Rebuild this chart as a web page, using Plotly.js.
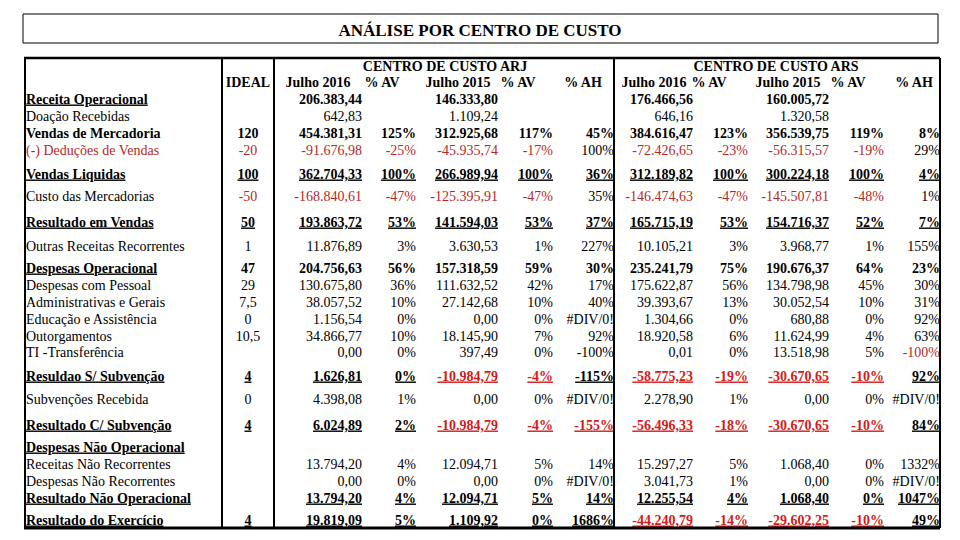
<!DOCTYPE html>
<html><head><meta charset="utf-8">
<script src="https://cdn.plot.ly/plotly-3.0.1.min.js"></script>
<style>html,body{margin:0;padding:0;background:#fff}</style>
</head><body><div id="chart" style="width:960px;height:540px"></div>
<script>
// ---------------- DATA ----------------
const chartTitle = 'ANÁLISE POR CENTRO DE CUSTO';
const centerNames = ['CENTRO DE CUSTO ARJ', 'CENTRO DE CUSTO ARS'];
const colHeaders = ['Julho 2016', '% AV', 'Julho 2015', '% AV', '% AH'];
const idealHeader = 'IDEAL';
const rowLabels = ['Receita Operacional','Doação Recebidas','Vendas de Mercadoria','(-) Deduções de Vendas','Vendas Liquidas','Custo das Mercadorias','Resultado em Vendas','Outras Receitas Recorrentes','Despesas Operacional','Despesas com Pessoal','Administrativas e Gerais','Educação e Assistência','Outorgamentos','TI -Transferência','Resuldao S/ Subvenção','Subvenções Recebida','Resultado C/ Subvenção','Despesas Não Operacional','Receitas Não Recorrentes','Despesas Não Recorrentes','Resultado Não Operacional','Resultado do Exercício'];
const ideal = ['','','120','-20','100','-50','50','1','47','29','7,5','0','10,5','','4','0','4','','','','','4'];
const arjJul2016 = ['206.383,44','642,83','454.381,31','-91.676,98','362.704,33','-168.840,61','193.863,72','11.876,89','204.756,63','130.675,80','38.057,52','1.156,54','34.866,77','0,00','1.626,81','4.398,08','6.024,89','','13.794,20','0,00','13.794,20','19.819,09'];
const arjAv2016 = ['','','125%','-25%','100%','-47%','53%','3%','56%','36%','10%','0%','10%','0%','0%','1%','2%','','4%','0%','4%','5%'];
const arjJul2015 = ['146.333,80','1.109,24','312.925,68','-45.935,74','266.989,94','-125.395,91','141.594,03','3.630,53','157.318,59','111.632,52','27.142,68','0,00','18.145,90','397,49','-10.984,79','0,00','-10.984,79','','12.094,71','0,00','12.094,71','1.109,92'];
const arjAv2015 = ['','','117%','-17%','100%','-47%','53%','1%','59%','42%','10%','0%','7%','0%','-4%','0%','-4%','','5%','0%','5%','0%'];
const arjAh = ['','','45%','100%','36%','35%','37%','227%','30%','17%','40%','#DIV/0!','92%','-100%','-115%','#DIV/0!','-155%','','14%','#DIV/0!','14%','1686%'];
const arsJul2016 = ['176.466,56','646,16','384.616,47','-72.426,65','312.189,82','-146.474,63','165.715,19','10.105,21','235.241,79','175.622,87','39.393,67','1.304,66','18.920,58','0,01','-58.775,23','2.278,90','-56.496,33','','15.297,27','3.041,73','12.255,54','-44.240,79'];
const arsAv2016 = ['','','123%','-23%','100%','-47%','53%','3%','75%','56%','13%','0%','6%','0%','-19%','1%','-18%','','5%','1%','4%','-14%'];
const arsJul2015 = ['160.005,72','1.320,58','356.539,75','-56.315,57','300.224,18','-145.507,81','154.716,37','3.968,77','190.676,37','134.798,98','30.052,54','680,88','11.624,99','13.518,98','-30.670,65','0,00','-30.670,65','','1.068,40','0,00','1.068,40','-29.602,25'];
const arsAv2015 = ['','','119%','-19%','100%','-48%','52%','1%','64%','45%','10%','0%','4%','5%','-10%','0%','-10%','','0%','0%','0%','-10%'];
const arsAh = ['','','8%','29%','4%','1%','7%','155%','23%','30%','31%','92%','63%','-100%','92%','#DIV/0!','84%','','1332%','#DIV/0!','1047%','49%'];

// ---------------- LAYOUT / STYLE CONFIG ----------------
const FONT = "'Liberation Serif', 'Times New Roman', serif";
const FS = 14;
const BLACK = '#000000';
const RED = '#b02a2a';
const RED_BOLD = '#d41a1a';
const rowY = [100,117,134,151,175,197,223,247,269,286,303,320,337,353,377,400,426,448,465,482,499,521];
// n = normal, b = bold, L = bold with underlined label, U = bold and underlined
const rowStyle = ['L','n','b','n','U','n','U','n','L','n','n','n','n','n','U','n','U','L','n','n','U','U'];
const redLabelRows = [3];
const arjAhRedRows = [16];
const arsAhRedRows = [13];
const labelX = 26;
const idealX = 248;
const arjRight = [362, 416, 498, 553, 614];
const arsRight = [693, 748, 829, 884, 940];
const arjHeadX = [318, 382, 458, 518, 583];
const arsHeadX = [654, 709, 788, 848, 914];
const centerX = [445, 776];
const headY1 = 67, headY2 = 83;

function styled(v, r, isLabel) {
  if (v === '') return '';
  const s = rowStyle[r];
  let t = v;
  if (s === 'U' || (s === 'L' && isLabel)) t = '<u>' + t + '</u>';
  if (s !== 'n') t = '<b>' + t + '</b>';
  return t;
}
function colorFor(v, r, redRows) {
  const red = redRows ? redRows.includes(r) : v.trim().startsWith('-');
  if (!red) return BLACK;
  return rowStyle[r] === 'n' ? RED : RED_BOLD;
}
function colTrace(values, x, pos, redRows, isLabel) {
  return {
    type: 'scatter', mode: 'text', hoverinfo: 'skip', showlegend: false,
    x: values.map(() => x), y: rowY,
    text: values.map((v, r) => styled(v, r, isLabel)),
    textposition: pos,
    textfont: {family: FONT, size: FS, color: values.map((v, r) => colorFor(v, r, redRows))},
    cliponaxis: false
  };
}

const traces = [];
traces.push(colTrace(rowLabels, labelX, 'middle right', redLabelRows, true));
traces.push(colTrace(ideal, idealX, 'middle center', null, false));
const arjCols = [arjJul2016, arjAv2016, arjJul2015, arjAv2015, arjAh];
const arsCols = [arsJul2016, arsAv2016, arsJul2015, arsAv2015, arsAh];
arjCols.forEach((c, i) => traces.push(colTrace(c, arjRight[i], 'middle left', i === 4 ? arjAhRedRows : null, false)));
arsCols.forEach((c, i) => traces.push(colTrace(c, arsRight[i], 'middle left', i === 4 ? arsAhRedRows : null, false)));

// header texts
const hx = [idealX, centerX[0], centerX[1]].concat(arjHeadX, arsHeadX);
const hy = [headY2, headY1, headY1].concat(arjHeadX.map(() => headY2), arsHeadX.map(() => headY2));
const ht = [idealHeader, centerNames[0], centerNames[1]].concat(colHeaders, colHeaders).map(t => '<b>' + t + '</b>');
traces.push({type: 'scatter', mode: 'text', hoverinfo: 'skip', showlegend: false, x: hx, y: hy, text: ht,
  textposition: 'middle center', textfont: {family: FONT, size: FS, color: BLACK}, cliponaxis: false});

const line = (x0, y0, x1, y1, w) => ({type: 'line', xref: 'x', yref: 'y', x0, y0, x1, y1, layer: 'above', line: {color: BLACK, width: w}});
const shapes = [
  {type: 'rect', xref: 'x', yref: 'y', x0: 23, y0: 14, x1: 938, y1: 43, line: {color: BLACK, width: 1}, layer: 'above'},
  line(24, 58, 940, 58, 2.5),
  line(24, 528, 940, 528, 3),
  line(25, 58, 25, 528, 2),
  line(222, 58, 222, 528, 2),
  line(274, 58, 274, 528, 2),
  line(614, 58, 614, 528, 2),
  line(940, 58, 940, 528, 2)
];

const layout = {
  width: 960, height: 540,
  margin: {l: 0, r: 0, t: 0, b: 0, pad: 0},
  paper_bgcolor: '#ffffff', plot_bgcolor: '#ffffff',
  title: {text: '<b>' + chartTitle + '</b>', font: {family: FONT, size: 17, color: BLACK},
          x: 0.5, xanchor: 'center', xref: 'paper', y: 1 - 30 / 540, yanchor: 'middle', yref: 'container'},
  xaxis: {range: [0, 960], visible: false, fixedrange: true},
  yaxis: {range: [540, 0], visible: false, fixedrange: true},
  shapes: shapes,
  showlegend: false
};
Plotly.newPlot('chart', traces, layout, {staticPlot: true, displayModeBar: false});
</script>
</body></html>
